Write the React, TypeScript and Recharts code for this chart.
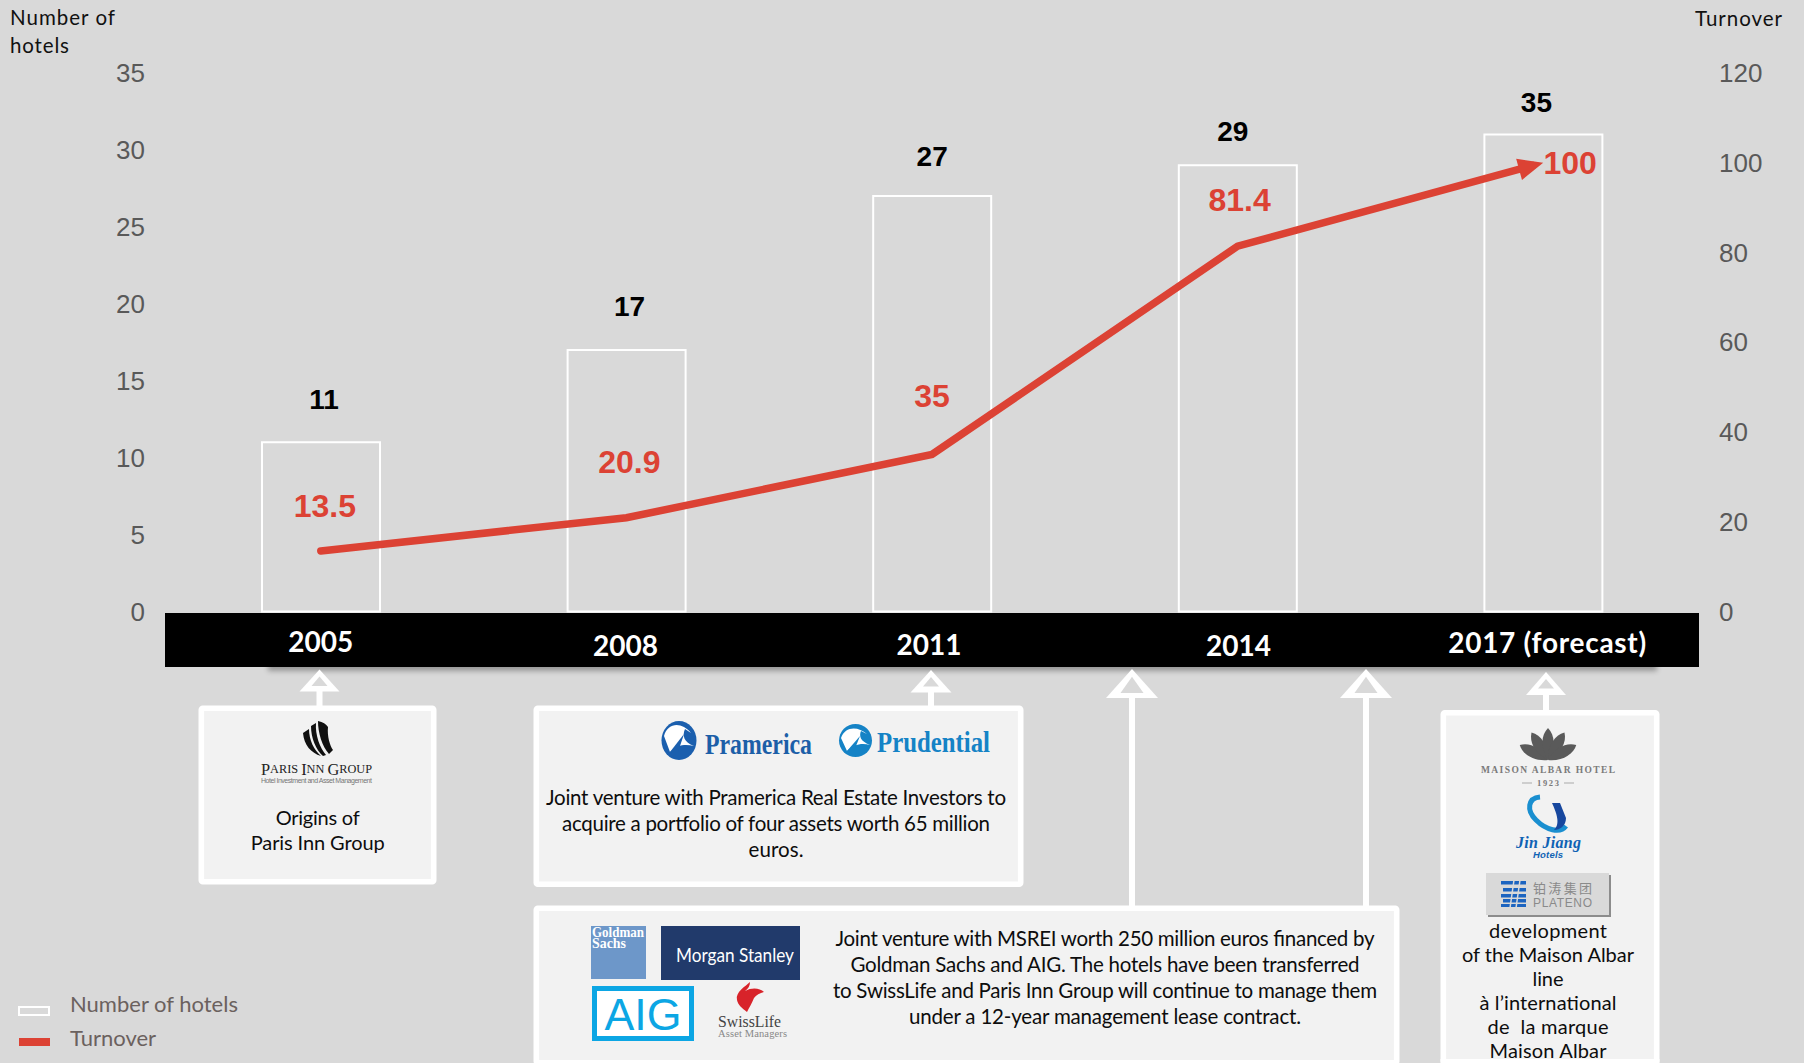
import {
  Bar,
  ComposedChart,
  LabelList,
  Legend,
  Line,
  XAxis,
  YAxis,
} from "recharts";

const YEARS = ["2005", "2008", "2011", "2014", "2017 (forecast)"];
// the last bar is drawn shorter than its printed label in the source slide
const HOTELS = [11, 17, 27, 29, 31];
const HOTEL_LABELS = ["11", "17", "27", "29", "35"];
const TURNOVER = [13.5, 20.9, 35, 81.4, 100];
const HOTEL_TICKS = [0, 5, 10, 15, 20, 25, 30, 35];
const TURNOVER_TICKS = [0, 20, 40, 60, 80, 100, 120];

const chartData = YEARS.map((year, i) => ({
  year,
  hotels: HOTELS[i],
  turnover: TURNOVER[i],
}));

// label nudges, the source slide placed these by hand
const HOTEL_LABEL_NUDGE = [
  [3, -43],
  [3, -43],
  [0, -40],
  [-5, -34],
  [-7, -32],
];
const TURNOVER_LABEL_NUDGE = [
  [4, -45],
  [3, -56],
  [0, -58],
  [2, -46],
  [27, 0],
];
const YEAR_NUDGE = [
  [0, 21],
  [-1, 25],
  [-3, 24],
  [1, 25],
  [4, 22],
];

const BG = "#D9D9D9";
const RED = "#DC4234";
const PANEL = "#F2F2F2";
const LATO = "Lato, sans-serif";
const ARIAL = "'Liberation Sans', Arial, sans-serif";
const SERIF = "'Liberation Serif', serif";

const BOXES = [
  { x: 198.5, y: 705.5, w: 238, h: 179 },
  { x: 533.5, y: 705.5, w: 490, h: 181.5 },
  { x: 533.5, y: 905.5, w: 866, h: 160 },
  { x: 1440.5, y: 710, w: 219, h: 355 },
];

const ARROWS = [
  { x: 319.5, top: 669.5, halfW: 20, h: 22, end: 712, big: false },
  { x: 931, top: 670, halfW: 20.5, h: 22.5, end: 712, big: false },
  { x: 1132, top: 669, halfW: 26, h: 29, end: 912, big: true },
  { x: 1366, top: 669, halfW: 26, h: 29, end: 912, big: true },
  { x: 1546, top: 672, halfW: 20, h: 23, end: 717, big: false },
];

const CALLOUT_LINES: [string, number, number, number, number][] = [
  ["Origins of", 317.7, 817, 84, 20],
  ["Paris Inn Group", 317.7, 841.5, 134, 20],
  ["Joint venture with Pramerica Real Estate Investors to", 776, 797, 460, 20.5],
  ["acquire a portfolio of four assets worth 65 million", 776, 823, 428, 20.5],
  ["euros.", 776, 849, 55, 20.5],
  ["Joint venture with MSREI worth 250 million euros financed by", 1105, 938, 539, 20.5],
  ["Goldman Sachs and AIG. The hotels have been transferred", 1105, 964, 509, 20.5],
  ["to SwissLife and Paris Inn Group will continue to manage them", 1105, 990, 544, 20.5],
  ["under a 12-year management lease contract.", 1105, 1016, 392, 20.5],
  ["development", 1548, 930, 118, 20],
  ["of the Maison Albar", 1548, 954, 172, 20],
  ["line", 1548, 978, 31, 20],
  ["à l’international", 1548, 1002, 137, 20],
  ["de  la marque", 1548, 1026, 121, 20],
  ["Maison Albar", 1548, 1050, 117, 20],
];

function YearTick({ x, y, payload, index }: any) {
  const [dx, dy] = YEAR_NUDGE[index] ?? [0, 0];
  const long = String(payload.value).length > 4;
  return (
    <text
      x={x + dx}
      y={y + dy}
      textAnchor="middle"
      dominantBaseline="central"
      fill="#fff"
      fontFamily={LATO}
      fontWeight={700}
      fontSize={28}
      textLength={long ? 198 : undefined}
    >
      {payload.value}
    </text>
  );
}

function HotelLabel({ x, y, width, index }: any) {
  const [dx, dy] = HOTEL_LABEL_NUDGE[index];
  return (
    <text
      x={x + width / 2 + dx}
      y={y + dy}
      textAnchor="middle"
      dominantBaseline="central"
      fill="#000"
      fontFamily={ARIAL}
      fontWeight={700}
      fontSize={28}
    >
      {HOTEL_LABELS[index]}
    </text>
  );
}

function TurnoverLabel({ x, y, value, index }: any) {
  const [dx, dy] = TURNOVER_LABEL_NUDGE[index];
  return (
    <text
      x={x + dx}
      y={y + dy}
      textAnchor="middle"
      dominantBaseline="central"
      fill={RED}
      fontFamily={ARIAL}
      fontWeight={700}
      fontSize={32}
    >
      {value}
    </text>
  );
}

function LegendBlock({ payload }: any) {
  return (
    <div style={{ position: "relative", width: 300, height: 75 }}>
      {(payload ?? []).map((p: any, i: number) => (
        <div key={p.value}>
          <div
            style={
              i === 0
                ? { position: "absolute", left: 18, top: 21, width: 28, height: 6, border: "2px solid #fff" }
                : { position: "absolute", left: 19, top: 53, width: 31, height: 8, background: RED }
            }
          />
          <span
            style={{
              position: "absolute",
              left: 70,
              top: i === 0 ? 4 : 38,
              lineHeight: "30px",
              fontFamily: LATO,
              fontSize: 22,
              color: "#6B615E",
              whiteSpace: "nowrap",
            }}
          >
            {p.value}
          </span>
        </div>
      ))}
    </div>
  );
}

function Logos() {
  const petals = [-62, -31, 0, 31, 62];
  return (
    <g>
      {/* Paris Inn Group */}
      <g fill="#111">
        <path d="M303 733 L309 729 C309 740 314 750 321 756 C311 753 304 745 303 733Z" />
        <path d="M311 726 L316 723 C315 735 320 748 326 755 L323 756 C316 750 311 738 311 726Z" />
        <path d="M318 721 C323 722 326 724 328 727 C327 736 330 746 333 750 L329 754 C322 746 318 733 318 721Z" />
      </g>
      <text x={316.5} y={769} textAnchor="middle" dominantBaseline="central" fontFamily={SERIF} fontSize={12} fill="#222" textLength={111} lengthAdjust="spacingAndGlyphs">
        <tspan fontSize={16}>P</tspan>ARIS <tspan fontSize={16}>I</tspan>NN <tspan fontSize={16}>G</tspan>ROUP
      </text>
      <text x={316.5} y={780} textAnchor="middle" dominantBaseline="central" fontFamily={ARIAL} fontSize={7} fill="#777" textLength={111}>
        Hotel Investment and Asset Management
      </text>

      {/* Pramerica / Prudential */}
      <ellipse cx={679} cy={740.5} rx={17.5} ry={19.5} fill="#1B5FAE" />
      <path d="M664 736 C668 722 682 722 691 733 L685 729 C682 736 684 742 694 746 C686 744 678 744 670 752 Z" fill="#fff" />
      <path d="M670 752 L684 734 L678 752 Z" fill="#1B5FAE" />
      <text x={758.5} y={743} textAnchor="middle" dominantBaseline="central" fontFamily={SERIF} fontWeight={700} fontSize={30} fill="#1C5FA8" textLength={107} lengthAdjust="spacingAndGlyphs">
        Pramerica
      </text>
      <ellipse cx={855.5} cy={740.5} rx={16.5} ry={16.5} fill="#1583C6" />
      <path d="M841 738 C845 726 858 726 867 734 L861 731 C859 736 860 741 870 745 C862 743 854 744 847 751 Z" fill="#fff" />
      <path d="M847 751 L860 736 L854 751 Z" fill="#1583C6" />
      <text x={933.5} y={741.5} textAnchor="middle" dominantBaseline="central" fontFamily={SERIF} fontWeight={700} fontSize={30} fill="#1583C6" textLength={113} lengthAdjust="spacingAndGlyphs">
        Prudential
      </text>

      {/* Goldman Sachs, Morgan Stanley */}
      <rect x={591} y={926} width={55} height={53} fill="#6D97C9" />
      <text x={592} y={937} fontFamily={SERIF} fontWeight={700} fontSize={15} fill="#fff" textLength={52} lengthAdjust="spacingAndGlyphs">
        Goldman
      </text>
      <text x={592} y={948} fontFamily={SERIF} fontWeight={700} fontSize={15} fill="#fff" textLength={34} lengthAdjust="spacingAndGlyphs">
        Sachs
      </text>
      <rect x={661} y={926} width={139} height={54} fill="#213A6B" />
      <text x={735} y={954} textAnchor="middle" dominantBaseline="central" fontFamily={LATO} fontSize={19} fill="#fff" textLength={118} lengthAdjust="spacingAndGlyphs">
        Morgan Stanley
      </text>

      {/* AIG, SwissLife */}
      <rect x={594.5} y={988.5} width={97} height={50} fill="#fff" stroke="#0CA6E4" strokeWidth={5} />
      <text x={643} y={1014} textAnchor="middle" dominantBaseline="central" fontFamily={ARIAL} fontSize={44} fill="#0CA6E4" textLength={77} lengthAdjust="spacingAndGlyphs">
        AIG
      </text>
      <path d="M737 1000 C735 992 746 986 750 982 C750 986 748 989 745 991 C752 987 760 988 764 992 C760 993 756 995 754 998 C752 1003 749 1008 747 1012 C742 1008 738 1005 737 1000Z" fill="#D8232A" />
      <text x={749.5} y={1021} textAnchor="middle" dominantBaseline="central" fontFamily={SERIF} fontSize={17} fill="#444" textLength={63} lengthAdjust="spacingAndGlyphs">
        SwissLife
      </text>
      <text x={752.5} y={1033} textAnchor="middle" dominantBaseline="central" fontFamily={SERIF} fontSize={10.5} fill="#888" textLength={69}>
        Asset Managers
      </text>

      {/* Maison Albar */}
      {petals.map((a) => (
        <path
          key={a}
          d="M1548 760 C1540 748 1541 735 1548 728 C1555 735 1556 748 1548 760Z"
          fill="#5A5A5A"
          transform={`rotate(${a} 1548 760)`}
        />
      ))}
      <text x={1548} y={770} textAnchor="middle" dominantBaseline="central" fontFamily={SERIF} fontWeight={700} fontSize={9.5} fill="#7A7A7A" textLength={134}>
        MAISON ALBAR HOTEL
      </text>
      <text x={1548} y={783} textAnchor="middle" dominantBaseline="central" fontFamily={SERIF} fontWeight={700} fontSize={8.5} fill="#7A7A7A" textLength={22}>
        1923
      </text>
      <path d="M1522 783 H1532 M1564 783 H1574" stroke="#AAA" strokeWidth={1} />

      {/* Jin Jiang */}
      <path d="M1540 797 C1528 798 1526 810 1536 820 C1546 830 1560 834 1566 826" fill="none" stroke="#1A8FD0" strokeWidth={5} />
      <path d="M1552 803 L1560 803 L1566 818 C1566 826 1560 830 1554 830 C1558 826 1560 820 1552 803Z" fill="#17479E" />
      <text x={1548.5} y={842} textAnchor="middle" dominantBaseline="central" fontFamily={SERIF} fontWeight={700} fontStyle="italic" fontSize={16} fill="#0F62B4" textLength={65}>
        Jin Jiang
      </text>
      <text x={1548} y={854.5} textAnchor="middle" dominantBaseline="central" fontFamily={ARIAL} fontWeight={700} fontStyle="italic" fontSize={9.5} fill="#0F62B4" textLength={30}>
        Hotels
      </text>

      {/* Plateno */}
      <rect x={1488} y={875} width={123} height={42} fill="#8C8C8C" />
      <rect x={1486} y={873} width={123} height={42} fill="#D9D9D9" />
      <g fill="#1C64C0">
        <rect x={1501} y={881} width={25} height={3.5} />
        <rect x={1503} y={888} width={23} height={3.5} />
        <rect x={1501} y={894} width={25} height={3.5} />
        <rect x={1503} y={899} width={23} height={3.5} />
        <rect x={1501} y={904} width={25} height={3} />
      </g>
      <path d="M1514 880 L1510 908 M1520 880 L1516 908" stroke="#D9D9D9" strokeWidth={1.5} />
      <text x={1562.5} y={887} textAnchor="middle" dominantBaseline="central" fontFamily="'Noto Sans CJK SC', sans-serif" fontSize={13} fill="#8A8A8A" textLength={59}>
        铂涛集团
      </text>
      <text x={1562.5} y={902.5} textAnchor="middle" dominantBaseline="central" fontFamily={ARIAL} fontSize={12} fill="#8A8A8A" textLength={59}>
        PLATENO
      </text>
    </g>
  );
}

function Callouts() {
  return (
    <svg
      width={1804}
      height={1063}
      style={{ position: "absolute", left: 0, top: 0, pointerEvents: "none" }}
    >
      {ARROWS.map((a) => {
        const hole = a.big
          ? { top: 7.7, bottom: 24, half: 11.5 }
          : { top: 7, bottom: 16.5, half: 8 };
        return (
          <g key={a.x}>
            <rect x={a.x - 3} y={a.top + a.h - 1} width={6} height={a.end - a.top - a.h + 1} fill="#fff" />
            <polygon
              points={`${a.x},${a.top} ${a.x + a.halfW},${a.top + a.h} ${a.x - a.halfW},${a.top + a.h}`}
              fill="#fff"
            />
            <polygon
              points={`${a.x},${a.top + hole.top} ${a.x + hole.half},${a.top + hole.bottom} ${a.x - hole.half},${a.top + hole.bottom}`}
              fill={BG}
            />
          </g>
        );
      })}
      {BOXES.map((b) => (
        <rect
          key={b.x + "-" + b.y}
          x={b.x + 2.8}
          y={b.y + 2.8}
          width={b.w - 5.6}
          height={b.h - 5.6}
          rx={1.5}
          fill={PANEL}
          stroke="#fff"
          strokeWidth={5.6}
        />
      ))}
      <Logos />
      {CALLOUT_LINES.map(([t, x, y, w, size]) => (
        <text
          key={t}
          x={x}
          y={y}
          textAnchor="middle"
          dominantBaseline="central"
          fontFamily={LATO}
          fontSize={size}
          fill="#0D0D0D"
          textLength={w}
          xmlSpace="preserve"
        >
          {t}
        </text>
      ))}
      {/* the box border runs over the clipped last line */}
      <rect x={1440.5} y={1059} width={219} height={4} fill="#fff" />
      <text x={10} y={16.5} dominantBaseline="central" fontFamily={LATO} fontSize={20.5} fill="#111" textLength={105}>
        Number of
      </text>
      <text x={10} y={45} dominantBaseline="central" fontFamily={LATO} fontSize={20.5} fill="#111" textLength={59}>
        hotels
      </text>
      <text x={1695} y={18} dominantBaseline="central" fontFamily={LATO} fontSize={20.5} fill="#111" textLength={87}>
        Turnover
      </text>
    </svg>
  );
}

export default function App() {
  const tick = { fill: "#595959", fontSize: 26, fontFamily: ARIAL };
  return (
    <div
      style={{
        position: "fixed",
        left: 0,
        top: 0,
        width: 1804,
        height: 1063,
        overflow: "hidden",
        background: BG,
      }}
    >
      {/* black year band with its soft shadow */}
      <div
        style={{
          position: "absolute",
          left: 268,
          top: 650,
          width: 1389,
          height: 17,
          boxShadow: "0 4px 5px rgba(0,0,0,0.3)",
        }}
      />
      <div style={{ position: "absolute", left: 165, top: 613, width: 1534, height: 54, background: "#000" }} />

      <ComposedChart
        width={1804}
        height={1063}
        data={chartData}
        margin={{ top: 73, right: 48, bottom: 411.5, left: 108 }}
      >
        <defs>
          <marker
            id="turnover-arrow"
            markerUnits="userSpaceOnUse"
            markerWidth={42}
            markerHeight={30}
            refX={30}
            refY={15}
            orient="auto"
          >
            <rect x={21} y={9} width={15} height={12} fill={BG} />
            <polygon points="5,4 30,15 5,26" fill={RED} />
          </marker>
        </defs>
        <XAxis
          dataKey="year"
          axisLine={false}
          tickLine={false}
          height={40}
          interval={0}
          tick={<YearTick />}
        />
        <YAxis
          yAxisId="left"
          width={60}
          domain={[0, 35]}
          ticks={HOTEL_TICKS}
          axisLine={false}
          tickLine={false}
          tickSize={0}
          tickMargin={23}
          tick={tick}
        />
        <YAxis
          yAxisId="right"
          orientation="right"
          width={60}
          domain={[0, 120]}
          ticks={TURNOVER_TICKS}
          axisLine={false}
          tickLine={false}
          tickSize={0}
          tickMargin={23}
          tick={tick}
        />
        <Legend
          layout="horizontal"
          verticalAlign="middle"
          wrapperStyle={{ left: 0, top: 985, width: 300, height: 75 }}
          content={<LegendBlock />}
        />
        <Bar
          yAxisId="left"
          dataKey="hotels"
          name="Number of hotels"
          barSize={118}
          fill="none"
          stroke="#fff"
          strokeWidth={2}
          isAnimationActive={false}
        >
          <LabelList dataKey="hotels" content={<HotelLabel />} />
        </Bar>
        <Line
          yAxisId="right"
          dataKey="turnover"
          name="Turnover"
          type="linear"
          stroke={RED}
          strokeWidth={7.5}
          strokeLinecap="round"
          dot={false}
          activeDot={false}
          markerEnd="url(#turnover-arrow)"
          isAnimationActive={false}
        >
          <LabelList dataKey="turnover" content={<TurnoverLabel />} />
        </Line>
      </ComposedChart>
      <Callouts />
    </div>
  );
}
